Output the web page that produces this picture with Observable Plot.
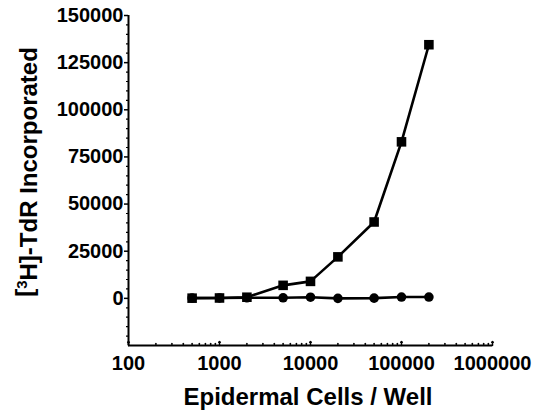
<!DOCTYPE html>
<html>
<head>
<meta charset="utf-8">
<script src="https://cdn.jsdelivr.net/npm/d3@7"></script>
<script src="https://cdn.jsdelivr.net/npm/@observablehq/plot@0.6"></script>
<style>
  html, body { margin: 0; padding: 0; background: #fff; }
  #chart svg { display: block; }
</style>
</head>
<body>
<div id="chart"></div>
<script>
const cells = [500, 1000, 2000, 5000, 10000, 20000, 50000, 100000, 200000];
const squareValues = [100, 200, 600, 6900, 9000, 22000, 40500, 83000, 134500];
const circleValues = [200, 200, 300, 300, 600, 0, 100, 700, 700];
const yMajorTicks = [0, 25000, 50000, 75000, 100000, 125000, 150000];
const yMinorTicks = d3.range(-25000, 150001, 5000).filter(v => v % 25000 !== 0);
const xMajorTicks = [100, 1000, 10000, 100000, 1000000];
const xMinorTicks = [100, 1000, 10000, 100000].flatMap(d => [2,3,4,5,6,7,8,9].map(k => d * k));
const xTitle = "Epidermal Cells / Well";

const squares = cells.map((c, i) => ({x: c, y: squareValues[i]}));
const circles = cells.map((c, i) => ({x: c, y: circleValues[i]}));

const font = "'Liberation Sans', Arial, Helvetica, sans-serif";

const plot = Plot.plot({
  width: 539,
  height: 411,
  marginLeft: 128,
  marginRight: 47,
  marginTop: 15,
  marginBottom: 66,
  style: {fontFamily: font, fontWeight: "bold", fontSize: "20px", color: "black", background: "white"},
  x: {type: "log", domain: [100, 1000000]},
  y: {domain: [-25000, 150000]},
  marks: [
    Plot.axisY({ticks: yMajorTicks, tickSize: 4, tickPadding: 1, strokeWidth: 1.5, tickFormat: d => String(d), label: null, fontSize: 20, fontWeight: "bold"}),
    Plot.axisY({ticks: yMinorTicks, tickSize: 2, strokeWidth: 1.2, text: null, label: null}),
    Plot.axisX({ticks: xMajorTicks, tickSize: 0, tickPadding: 10, tickFormat: d => String(d), label: null, fontSize: 20, fontWeight: "bold"}),
    Plot.vector(xMajorTicks, {x: d => d, frameAnchor: "bottom", length: 4, rotate: 0, anchor: "start", stroke: "black", strokeWidth: 1.5}),
    Plot.vector(xMinorTicks, {x: d => d, frameAnchor: "bottom", length: 2, rotate: 0, anchor: "start", stroke: "black", strokeWidth: 1.2}),
    Plot.ruleX([100], {stroke: "black", strokeWidth: 2}),
    Plot.ruleY([-25000], {stroke: "black", strokeWidth: 2}),
    Plot.line(circles, {x: "x", y: "y", stroke: "black", strokeWidth: 2.6}),
    Plot.dot(circles, {x: "x", y: "y", r: 4.8, fill: "black", symbol: "circle"}),
    Plot.line(squares, {x: "x", y: "y", stroke: "black", strokeWidth: 2.6}),
    Plot.dot(squares, {x: "x", y: "y", r: 5.4, fill: "black", symbol: "square"})
  ]
});

const svg = d3.select(plot);
svg.append("text")
  .attr("x", 308).attr("y", 405)
  .attr("text-anchor", "middle")
  .style("font-family", font).style("font-weight", "bold").style("font-size", "24px")
  .attr("fill", "black")
  .text(xTitle);

const yl = svg.append("text")
  .attr("transform", "translate(33,172) rotate(-90)")
  .attr("text-anchor", "middle")
  .style("font-family", font).style("font-weight", "bold").style("font-size", "24px")
  .attr("fill", "black");
yl.append("tspan").text("[");
yl.append("tspan").attr("dy", "-0.4em").style("font-size", "15px").text("3");
yl.append("tspan").attr("dy", "0.4em").text("H]-TdR Incorporated");

document.getElementById("chart").appendChild(plot);
</script>
</body>
</html>
